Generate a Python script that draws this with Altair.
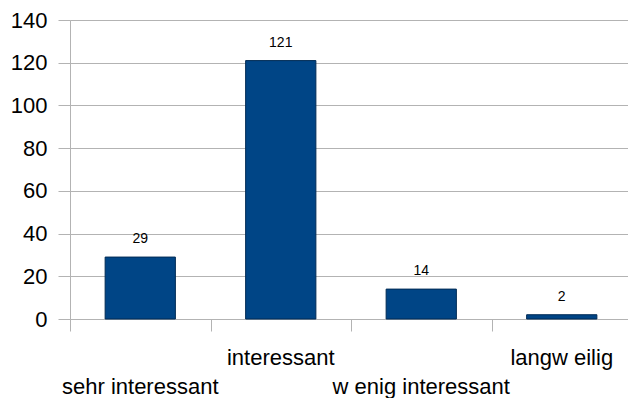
import altair as alt
import pandas as pd

categories = ["sehr interessant", "interessant", "w enig interessant", "langw eilig"]
values = [29, 121, 14, 2]
y_ticks = [0, 20, 40, 60, 80, 100, 120, 140]

df = pd.DataFrame({"cat": categories, "value": values})

FONT = "Liberation Sans"
GRID = "#b3b3b3"

xscale = alt.Scale(domain=categories, paddingInner=0, paddingOuter=0, range=[0, 562])
yscale = alt.Scale(domain=[0, 140], nice=False)

base = alt.Chart(df)

bars = base.mark_bar(color="#004586", stroke="#002b55", strokeWidth=1,
                     width=alt.RelativeBandSize(0.5)).encode(
    x=alt.X("cat:N", scale=xscale, title=None,
            axis=alt.Axis(labels=False, tickBand="extent", tickSize=12, tickColor=GRID,
                          domainColor=GRID, grid=False)),
    y=alt.Y("value:Q", scale=yscale, title=None,
            axis=alt.Axis(values=y_ticks, tickSize=12, tickColor=GRID, domainColor=GRID,
                          gridColor=GRID, labelPadding=11, labelFontSize=22,
                          labelFont=FONT, labelColor="black")),
)

vals = base.mark_text(baseline="bottom", dy=-11, fontSize=14, font=FONT, color="black").encode(
    x=alt.X("cat:N", scale=xscale),
    y=alt.Y("value:Q", scale=yscale),
    text="value:Q",
)

lab = base.transform_window(idx="row_number()").transform_calculate(odd="datum.idx % 2")

upper = lab.transform_filter("datum.odd == 0").mark_text(
    baseline="alphabetic", fontSize=22, font=FONT, color="black"
).encode(x=alt.X("cat:N", scale=xscale), y=alt.value(345), text="cat:N")

lower = lab.transform_filter("datum.odd == 1").mark_text(
    baseline="alphabetic", fontSize=22, font=FONT, color="black"
).encode(x=alt.X("cat:N", scale=xscale), y=alt.value(374), text="cat:N")

chart = alt.layer(bars, vals, upper, lower).properties(
    width=558, height=299,
    padding={"left": 70, "top": 20, "right": 0, "bottom": 79},
    autosize=alt.AutoSizeParams(type="none"),
).configure_view(stroke=None).configure(background="white")

chart.save("out.html", embed_options={"renderer": "svg", "actions": False})
